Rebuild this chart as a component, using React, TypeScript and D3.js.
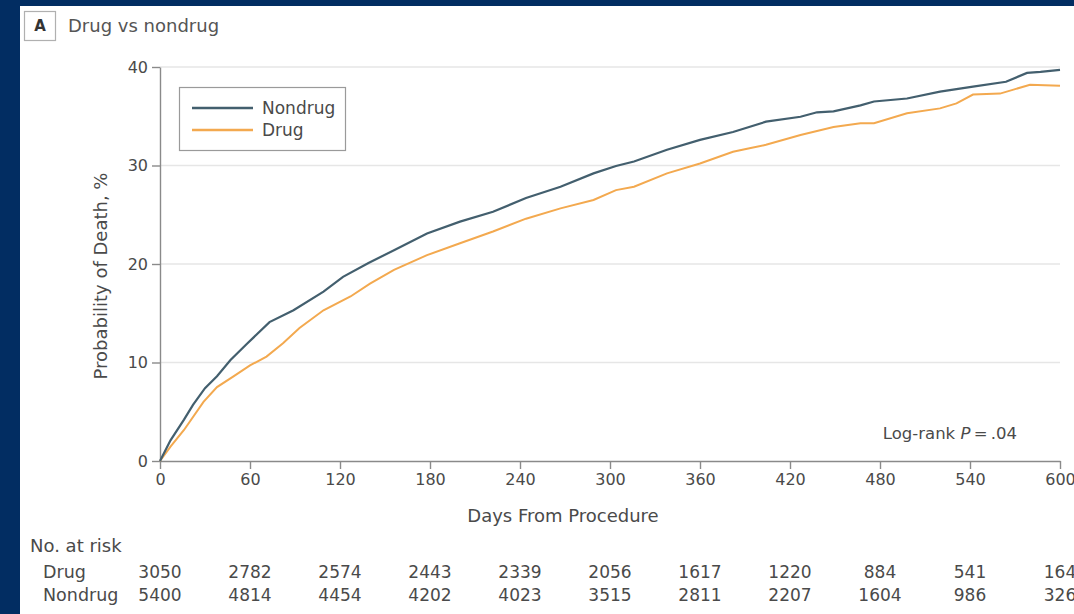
import { useEffect, useRef } from "react";
import * as d3 from "d3";

// curve readings (days, cumulative % dead)
const nondrugDays = [0, 7, 16, 22, 30, 38, 47, 58, 73, 89, 109, 122, 139, 156, 178, 200, 222, 244, 267, 289, 304, 316, 338, 360, 382, 404, 427, 438, 449, 467, 476, 498, 520, 542, 564, 578, 587, 600];
const nondrugValues = [0, 2.1, 4.2, 5.7, 7.4, 8.6, 10.25, 11.9, 14.1, 15.3, 17.2, 18.7, 20.1, 21.4, 23.1, 24.3, 25.3, 26.7, 27.85, 29.2, 29.95, 30.4, 31.6, 32.6, 33.4, 34.45, 34.95, 35.4, 35.5, 36.1, 36.5, 36.8, 37.5, 38.0, 38.5, 39.4, 39.5, 39.7];

const drugDays = [0, 7, 16, 29, 38, 49, 60, 71, 82, 93, 109, 127, 140, 156, 178, 200, 222, 244, 267, 289, 304, 316, 338, 360, 382, 393, 404, 427, 449, 467, 476, 498, 520, 531, 542, 560, 569, 580, 600];
const drugValues = [0, 1.45, 3.15, 6.0, 7.5, 8.6, 9.7, 10.6, 11.95, 13.5, 15.3, 16.7, 18.0, 19.4, 20.9, 22.1, 23.3, 24.6, 25.65, 26.5, 27.5, 27.85, 29.2, 30.2, 31.4, 31.75, 32.1, 33.1, 33.9, 34.3, 34.3, 35.3, 35.8, 36.3, 37.2, 37.3, 37.7, 38.2, 38.1];

const xTicks = [0, 60, 120, 180, 240, 300, 360, 420, 480, 540, 600];
const yTicks = [0, 10, 20, 30, 40];

const atRiskDrug = [3050, 2782, 2574, 2443, 2339, 2056, 1617, 1220, 884, 541, 164];
const atRiskNondrug = [5400, 4814, 4454, 4202, 4023, 3515, 2811, 2207, 1604, 986, 326];

const NONDRUG_COLOR = "#435f6e";
const DRUG_COLOR = "#f3a94f";
const TEXT = "#4a4a4a";
const FONT = "'DejaVu Sans', sans-serif";

const App = () => {
  const svgRef = useRef<SVGSVGElement>(null);

  useEffect(() => {
    const svg = d3.select(svgRef.current);
    svg.selectAll("*").remove();

    const width = 1074;
    const height = 614;

    svg.attr("width", width).attr("height", height).style("font-family", FONT);

    // navy frame + white panel
    svg.append("rect").attr("width", width).attr("height", height).attr("fill", "#022d62");
    svg.append("rect").attr("x", 20).attr("y", 6).attr("width", width - 20).attr("height", height - 6).attr("fill", "#fff");

    // panel label
    svg.append("rect").attr("x", 24.5).attr("y", 11.5).attr("width", 31).attr("height", 29)
      .attr("fill", "none").attr("stroke", "#b0b0b0").attr("stroke-width", 1.2);
    svg.append("text").attr("x", 40).attr("y", 31).attr("text-anchor", "middle")
      .style("font-size", "15px").style("font-weight", "bold").attr("fill", "#333").text("A");
    svg.append("text").attr("x", 68).attr("y", 32).style("font-size", "18px").attr("fill", "#555").text("Drug vs nondrug");

    const x = d3.scaleLinear().domain([0, 600]).range([160, 1060]);
    const y = d3.scaleLinear().domain([0, 40]).range([461, 67]);

    // gridlines
    svg.append("g").selectAll("line").data(yTicks.filter((d) => d > 0)).join("line")
      .attr("x1", x(0)).attr("x2", x(600))
      .attr("y1", (d) => y(d)).attr("y2", (d) => y(d))
      .attr("stroke", "#e6e6e6").attr("stroke-width", 1.6);

    // axes
    const yAxis = svg.append("g").attr("transform", `translate(${x(0)},0)`)
      .call(d3.axisLeft(y).tickValues(yTicks).tickSize(8).tickPadding(4).tickSizeOuter(0));
    const xAxis = svg.append("g").attr("transform", `translate(0,${y(0)})`)
      .call(d3.axisBottom(x).tickValues(xTicks).tickSize(8).tickPadding(5).tickSizeOuter(0));

    [xAxis, yAxis].forEach((g) => {
      g.select(".domain").attr("stroke", "#8a8a8a").attr("stroke-width", 1.4);
      g.selectAll(".tick line").attr("stroke", "#8a8a8a").attr("stroke-width", 1.4);
      g.selectAll("text").style("font-size", "16px").style("font-family", FONT).attr("fill", TEXT);
    });

    svg.append("text").attr("x", 563).attr("y", 522).attr("text-anchor", "middle")
      .style("font-size", "18px").attr("fill", TEXT).text("Days From Procedure");
    svg.append("text").attr("transform", "translate(107,276) rotate(-90)").attr("text-anchor", "middle")
      .style("font-size", "18px").attr("fill", TEXT).text("Probability of Death, %");

    // curves
    const line = d3.line<[number, number]>().x((d) => x(d[0])).y((d) => y(d[1]));
    const drugPts = drugDays.map((d, i) => [d, drugValues[i]] as [number, number]);
    const nondrugPts = nondrugDays.map((d, i) => [d, nondrugValues[i]] as [number, number]);

    svg.append("path").attr("d", line(drugPts)).attr("fill", "none")
      .attr("stroke", DRUG_COLOR).attr("stroke-width", 2);
    svg.append("path").attr("d", line(nondrugPts)).attr("fill", "none")
      .attr("stroke", NONDRUG_COLOR).attr("stroke-width", 2.2);

    // legend
    const legend = svg.append("g");
    legend.append("rect").attr("x", 179.5).attr("y", 87.5).attr("width", 166).attr("height", 63)
      .attr("fill", "#fff").attr("stroke", "#9a9a9a").attr("stroke-width", 1.2);
    const items: [string, string][] = [["Nondrug", NONDRUG_COLOR], ["Drug", DRUG_COLOR]];
    items.forEach(([name, color], i) => {
      const ly = 108 + i * 22;
      legend.append("line").attr("x1", 192).attr("x2", 253).attr("y1", ly).attr("y2", ly)
        .attr("stroke", color).attr("stroke-width", 2.4);
      legend.append("text").attr("x", 262).attr("y", ly + 6).style("font-size", "17px")
        .attr("fill", TEXT).text(name);
    });

    // log-rank annotation
    const lr = svg.append("text").attr("x", 1017).attr("y", 439).attr("text-anchor", "end")
      .style("font-size", "16.5px").attr("fill", TEXT);
    lr.append("tspan").text("Log-rank ");
    lr.append("tspan").style("font-style", "italic").text("P");
    lr.append("tspan").text("\u2009=\u2009.04");

    // number at risk
    svg.append("text").attr("x", 30).attr("y", 552).style("font-size", "18px").attr("fill", TEXT).text("No. at risk");
    const rows: [string, number[], number][] = [["Drug", atRiskDrug, 578], ["Nondrug", atRiskNondrug, 601]];
    rows.forEach(([name, vals, ry]) => {
      svg.append("text").attr("x", 43).attr("y", ry).style("font-size", "17.5px").attr("fill", TEXT).text(name);
      svg.append("g").selectAll("text").data(vals).join("text")
        .attr("x", (_, i) => x(xTicks[i])).attr("y", ry).attr("text-anchor", "middle")
        .style("font-size", "17px").attr("fill", TEXT).text((d) => String(d));
    });
  }, []);

  return <svg ref={svgRef} style={{ position: "absolute", left: 0, top: 0, display: "block" }} />;
};

export default App;
